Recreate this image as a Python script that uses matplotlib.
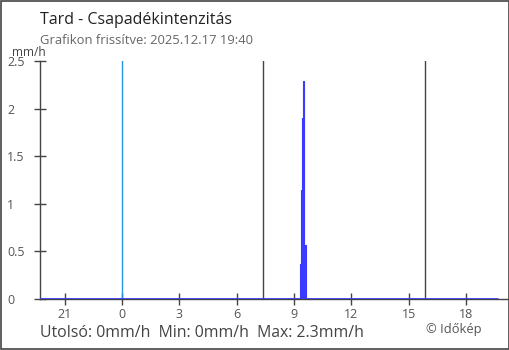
import numpy as np
import matplotlib
matplotlib.use("Agg")
import matplotlib.pyplot as plt

plt.rcParams['font.family'] = ['Open Sans', 'DejaVu Sans']

# idő órában (0 = éjfél), csapadékintenzitás mm/h
start_h = -4.33
end_h = 19.67
rain_t = [9.30, 9.35, 9.40, 9.45, 9.50, 9.55, 9.61]
rain_v = [0.37, 1.14, 1.90, 2.29, 1.71, 0.57, 0.0]
midnight = 0.0
sunrise = 7.38
sunset = 15.86
xticks = [-3, 0, 3, 6, 9, 12, 15, 18]
xlabels = ['21', '0', '3', '6', '9', '12', '15', '18']
yticks = [0, 0.5, 1, 1.5, 2, 2.5]
ylabels = ['0', '0.5', '1', '1.5', '2', '2.5']

fig = plt.figure(figsize=(5.1, 3.5), dpi=100)
fig.patch.set_facecolor('white')
ax = fig.add_axes([40/510, 1-299/350, 468/510, 238/350])
ax.set_facecolor('white')

blue = '#3b3bff'
ax.fill_between(rain_t, rain_v, 0, step='post', color=blue, lw=0.8, ec=blue)
ax.plot([start_h, end_h], [0, 0], color=blue, lw=2, solid_capstyle='butt', zorder=3)

ax.axvline(midnight, color='#2a95e0', lw=1)
ax.axvline(sunrise, color='#444444', lw=1)
ax.axvline(sunset, color='#444444', lw=1)

ax.set_xlim(-4.29, 20.2)
ax.set_ylim(0, 2.5)
ax.set_xticks(xticks)
ax.set_xticklabels(xlabels)
ax.set_yticks(yticks)
ax.set_yticklabels(ylabels, ha='left')
ax.tick_params(axis='both', direction='inout', length=9, width=1, color='#444444',
               labelcolor='#555555', labelsize=9)
ax.tick_params(axis='y', pad=19)
ax.tick_params(axis='x', pad=2)
for s in ['top', 'right']:
    ax.spines[s].set_visible(False)
for s in ['left', 'bottom']:
    ax.spines[s].set_color('#444444')
    ax.spines[s].set_linewidth(1)

fig.text(40/510, 1-20/350, 'Tard - Csapadékintenzitás', fontsize=11.5, color='#222222', va='center')
fig.text(40/510, 1-41/350, 'Grafikon frissítve: 2025.12.17 19:40', fontsize=9.4, color='#666666', va='center')
fig.text(12/510, 1-52/350, 'mm/h', fontsize=8.6, color='#444444', va='center')
fig.text(40/510, 1-333/350, 'Utolsó: 0mm/h  Min: 0mm/h  Max: 2.3mm/h', fontsize=11.4, color='#444444', va='center')
fig.text(482/510, 1-330/350, '© Időkép', fontsize=9.3, color='#555555', va='center', ha='right')

fig.add_artist(plt.Rectangle((0.001, 0.0015), 0.997, 0.996, transform=fig.transFigure,
                             fill=False, ec='#444444', lw=1.2))

fig.savefig('out.png', dpi=100)
